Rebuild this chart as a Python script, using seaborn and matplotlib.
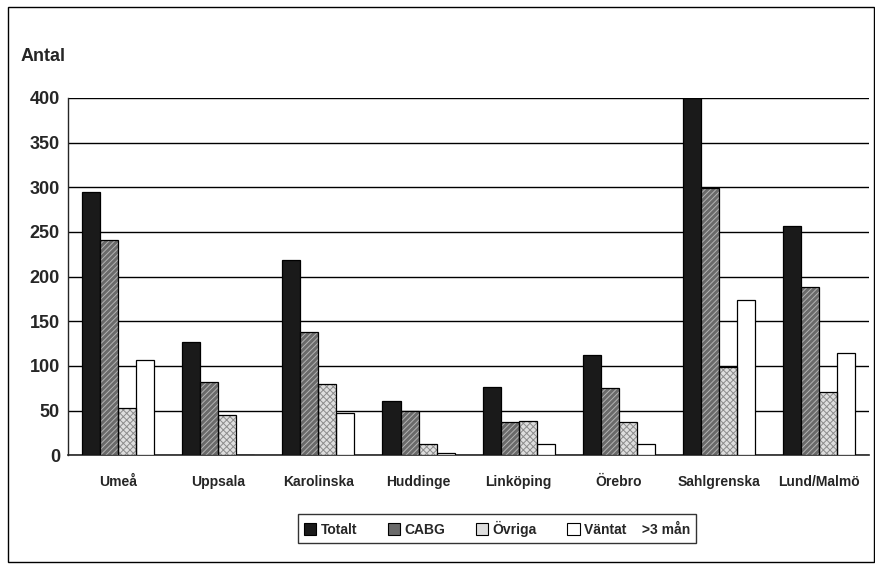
import seaborn as sns
import matplotlib.pyplot as plt
import matplotlib.patches as mpatches
import pandas as pd
import numpy as np

# Data
kliniker = ["Umeå", "Uppsala", "Karolinska", "Huddinge", "Linköping",
            "Örebro", "Sahlgrenska", "Lund/Malmö"]
totalt = [295, 127, 218, 61, 76, 112, 400, 257]
cabg = [241, 82, 138, 49, 37, 75, 299, 188]
ovriga = [53, 45, 80, 12, 38, 37, 99, 71]
vantat = [107, 0, 47, 3, 13, 12, 174, 114]
serier = ["Totalt", "CABG", "Övriga", "Väntat    >3 mån"]

df = pd.DataFrame({
    "klinik": kliniker * 4,
    "serie": np.repeat(serier, len(kliniker)),
    "antal": totalt + cabg + ovriga + vantat,
})

sns.set_style("white")
plt.rcParams["font.family"] = ["Liberation Sans", "DejaVu Sans"]
plt.rcParams["hatch.linewidth"] = 0.7

fig, ax = plt.subplots(figsize=(8.75, 5.69), dpi=100)
fig.subplots_adjust(left=0.078, right=0.993, top=0.828, bottom=0.2)

farger = ["#1a1a1a", "#6a6a6a", "#dedede", "#ffffff"]
monster = ["", "//////", "xxxxx", ""]
monsterfarg = ["#1a1a1a", "#b4b4b4", "#8c8c8c", "#ffffff"]
sns.barplot(data=df, x="klinik", y="antal", hue="serie", palette=farger,
            width=0.72, gap=0, edgecolor="black", linewidth=0.9,
            legend=False, ax=ax, zorder=3)

# hatch colour follows edge colour, so put a black outline on top
for i, bar in enumerate(list(ax.patches[:len(kliniker) * 4])):
    s = i // len(kliniker)
    if monster[s]:
        bar.set_hatch(monster[s])
        bar.set_edgecolor(monsterfarg[s])
        bar.set_linewidth(0)
        ax.add_patch(mpatches.Rectangle(bar.get_xy(), bar.get_width(),
                                        bar.get_height(), fill=False,
                                        edgecolor="black", linewidth=0.9,
                                        zorder=4))

# axes and grid
ax.set_ylim(0, 400)
ax.set_xlim(-0.5, len(kliniker) - 0.5)
ax.set_yticks(range(0, 401, 50))
ax.yaxis.grid(True, color="black", linewidth=1.0, zorder=0)
ax.set_axisbelow(True)
for side in ["top", "right"]:
    ax.spines[side].set_visible(False)
ax.spines["left"].set_linewidth(1.0)
ax.spines["bottom"].set_linewidth(1.2)
ax.set_xlabel("")
ax.set_ylabel("")
ax.set_xticks(np.arange(len(kliniker)) + 0.5, minor=True)
ax.tick_params(axis="x", which="major", length=0, pad=14)
ax.tick_params(axis="x", which="minor", length=5, direction="out", width=1)
ax.tick_params(axis="y", length=4, direction="out", width=1, pad=2)
for lab in ax.get_xticklabels():
    lab.set_fontweight("bold")
    lab.set_fontsize(10)
for lab in ax.get_yticklabels():
    lab.set_fontweight("bold")
    lab.set_fontsize(13)

fig.text(0.023, 0.9, "Antal", fontsize=13, fontweight="bold", va="center")

# legend
handles = [mpatches.Patch(facecolor=farger[k], edgecolor="black",
                          linewidth=0.8) for k in range(4)]
leg = fig.legend(handles, serier, loc="center", bbox_to_anchor=(0.568, 0.071),
                 ncol=4, frameon=True, fancybox=False, edgecolor="black",
                 prop={"weight": "bold", "size": 10}, handlelength=0.9,
                 handleheight=0.9, handletextpad=0.3, columnspacing=2.2,
                 borderpad=0.45)
leg.get_frame().set_linewidth(1.0)

# outer frame around the whole picture
fig.patches.append(mpatches.Rectangle((0.009, 0.012), 0.99, 0.975,
                                      transform=fig.transFigure, fill=False,
                                      edgecolor="black", linewidth=1.0))

plt.savefig("out.png", dpi=100)
